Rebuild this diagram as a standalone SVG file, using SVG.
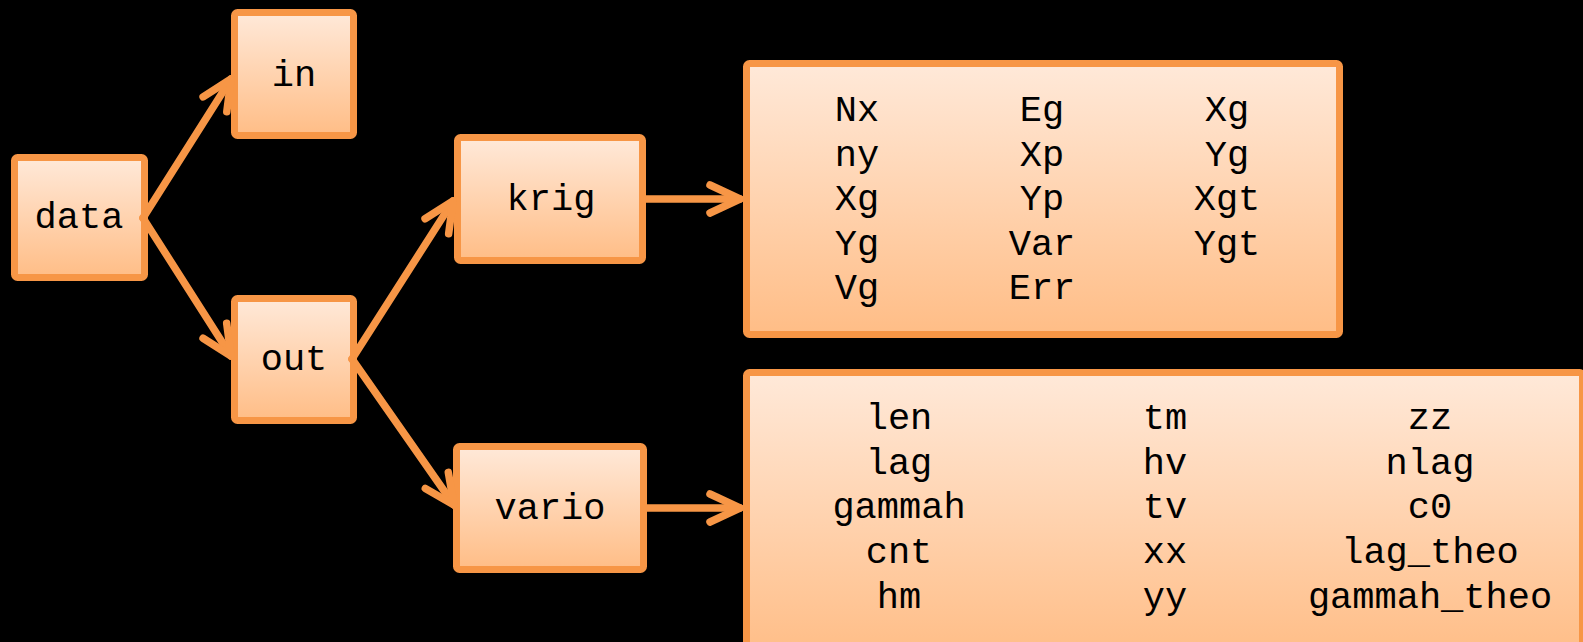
<svg xmlns="http://www.w3.org/2000/svg" width="1583" height="642" viewBox="0 0 1583 642">
  <defs>
    <linearGradient id="fillGrad" x1="0" y1="0" x2="0" y2="1">
      <stop offset="0" stop-color="#FFE9D9"/>
      <stop offset="1" stop-color="#FFBD86"/>
    </linearGradient>
    <marker id="chevron" markerUnits="userSpaceOnUse" viewBox="-40 -24 48 48" markerWidth="48" markerHeight="48" refX="0" refY="0" orient="auto">
      <path d="M-30,-14 L0,0 L-30,14" fill="none" stroke="#F79646" stroke-width="7.5" stroke-linecap="round" stroke-linejoin="round"/>
    </marker>
    <style>
      .box { fill: url(#fillGrad); stroke: #F79646; stroke-width: 7; }
      .label { font-family: "Liberation Mono", "Courier New", monospace; font-size: 37px; fill: #000; text-anchor: middle; }
      .conn { fill: none; stroke: #F79646; stroke-width: 7.5; stroke-linecap: round; marker-end: url(#chevron); }
    </style>
  </defs>

  <rect x="0" y="0" width="1583" height="642" fill="#000"/>

  <g id="node-data">
    <rect class="box" x="14.5" y="157.5" width="130" height="120" rx="3"/>
    <text class="label" x="79" y="228">data</text>
  </g>

  <g id="node-in">
    <rect class="box" x="234.5" y="12.5" width="119" height="123" rx="3"/>
    <text class="label" x="294" y="86">in</text>
  </g>

  <g id="node-out">
    <rect class="box" x="234.5" y="298.5" width="119" height="122" rx="3"/>
    <text class="label" x="294" y="370">out</text>
  </g>

  <g id="node-krig">
    <rect class="box" x="457.5" y="137.5" width="185" height="123" rx="3"/>
    <text class="label" x="551" y="210">krig</text>
  </g>

  <g id="node-vario">
    <rect class="box" x="456.5" y="446.5" width="187" height="123" rx="3"/>
    <text class="label" x="550" y="519">vario</text>
  </g>

  <g id="node-krig-fields">
    <rect class="box" x="746.5" y="63.5" width="593" height="271" rx="3"/>
    <text class="label" x="857" y="121">Nx</text>
    <text class="label" x="857" y="166">ny</text>
    <text class="label" x="857" y="210">Xg</text>
    <text class="label" x="857" y="255">Yg</text>
    <text class="label" x="857" y="299">Vg</text>
    <text class="label" x="1042" y="121">Eg</text>
    <text class="label" x="1042" y="166">Xp</text>
    <text class="label" x="1042" y="210">Yp</text>
    <text class="label" x="1042" y="255">Var</text>
    <text class="label" x="1042" y="299">Err</text>
    <text class="label" x="1227" y="121">Xg</text>
    <text class="label" x="1227" y="166">Yg</text>
    <text class="label" x="1227" y="210">Xgt</text>
    <text class="label" x="1227" y="255">Ygt</text>
  </g>

  <g id="node-vario-fields">
    <rect class="box" x="746.5" y="372.5" width="836" height="285" rx="3"/>
    <text class="label" x="899" y="429">len</text>
    <text class="label" x="899" y="474">lag</text>
    <text class="label" x="899" y="518">gammah</text>
    <text class="label" x="899" y="563">cnt</text>
    <text class="label" x="899" y="608">hm</text>
    <text class="label" x="1165" y="429">tm</text>
    <text class="label" x="1165" y="474">hv</text>
    <text class="label" x="1165" y="518">tv</text>
    <text class="label" x="1165" y="563">xx</text>
    <text class="label" x="1165" y="608">yy</text>
    <text class="label" x="1430" y="429">zz</text>
    <text class="label" x="1430" y="474">nlag</text>
    <text class="label" x="1430" y="518">c0</text>
    <text class="label" x="1430" y="563">lag_theo</text>
    <text class="label" x="1430" y="608">gammah_theo</text>
  </g>

  <g id="connectors">
    <line class="conn" x1="143" y1="218" x2="231" y2="79"/>
    <line class="conn" x1="143" y1="218" x2="231" y2="356"/>
    <line class="conn" x1="352" y1="359" x2="453" y2="201"/>
    <line class="conn" x1="352" y1="359" x2="454" y2="505"/>
    <line class="conn" x1="644" y1="199" x2="740" y2="199"/>
    <line class="conn" x1="645" y1="508" x2="740" y2="508"/>
  </g>
</svg>
